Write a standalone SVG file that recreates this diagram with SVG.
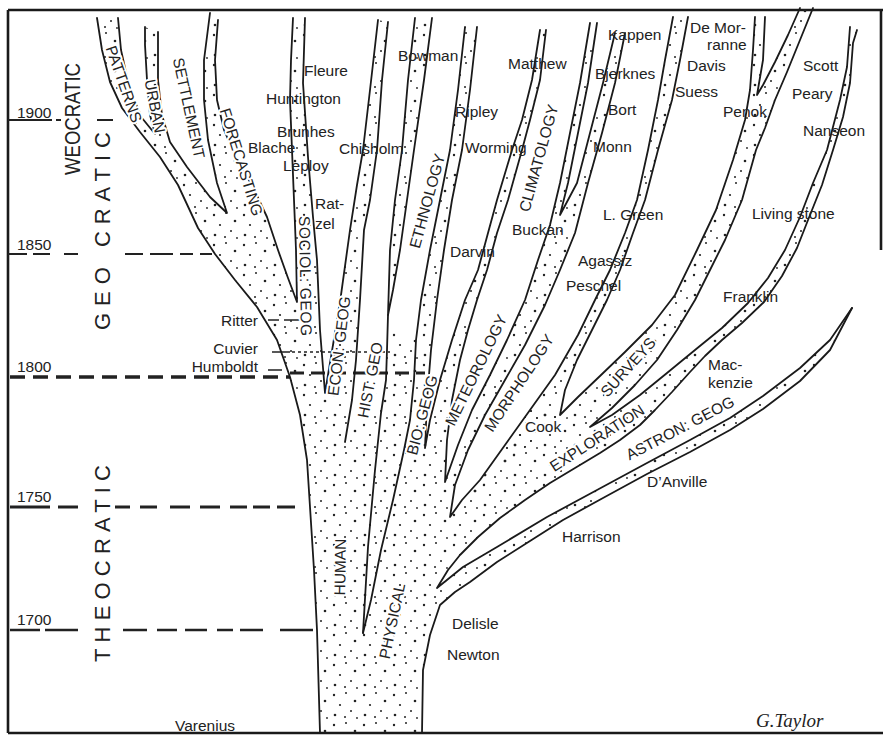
<svg xmlns="http://www.w3.org/2000/svg" width="883" height="735" viewBox="0 0 883 735">
<defs>
<pattern id="stip" width="30" height="30" patternUnits="userSpaceOnUse">
<circle cx="4" cy="5" r="1.2" fill="#222"/><circle cx="16" cy="3" r="1" fill="#222"/><circle cx="25" cy="11" r="1.3" fill="#222"/><circle cx="10" cy="15" r="1.1" fill="#222"/><circle cx="21" cy="21" r="1" fill="#222"/><circle cx="5" cy="25" r="1.3" fill="#222"/><circle cx="15" cy="27" r="1" fill="#222"/><circle cx="27" cy="28" r="0.9" fill="#222"/>
</pattern>
</defs>
<style>
.ln{fill:none;stroke:#1a1a1a;stroke-width:1.8;stroke-linejoin:round;stroke-linecap:round}
.st{fill:url(#stip);stroke:none}
.fr{fill:none;stroke:#1a1a1a;stroke-width:2.6}
.d{fill:none;stroke:#222}
.t{font-family:"Liberation Sans",Arial,sans-serif;font-size:15.5px;fill:#222}
.lb{font-family:"Liberation Sans",Arial,sans-serif;font-size:15.5px;fill:#222;text-anchor:middle;dominant-baseline:central;paint-order:stroke;stroke:#fff;stroke-width:4px;stroke-linejoin:round}
.era{font-family:"Liberation Sans",Arial,sans-serif;font-size:22px;fill:#222;text-anchor:middle;dominant-baseline:central}
</style>
<rect width="883" height="735" fill="#fff"/>
<g id="frame"><path class="fr" d="M8 10 H883 M8 10 V733 M8 733 H883 M881 10 V250"/></g>
<g id="tree-fills">
<path class="st" d="M320 733 L317 630 314 570 310 507 307 460 300 415 290 377 325 393 345 442 386 380 388 330 416 340 414 380 425 448 445 482 450 517 480 480 505 445 530 410 560 415 590 427 600 453 575 468 550 483 525 500 500 518 478 537 460 555 448 570 437 588 440 605 430 635 423 670 422 733 Z"/>
<path class="st" d="M97 18 L102 50 110 82 122 108 140 132 160 157 178 185 198 228 215 254 235 280 257 307 277 340 290 377 325 393 320 330 317 260 313 217 308 157 303 83 305 18 293 18 291 60 290 100 292 150 294 200 296 250 297 302 288 278 278 250 267 217 253 187 237 160 224 130 217 100 215 60 218 20 210 13 204 60 204 100 208 140 217 183 227 213 210 197 187 167 170 142 162 115 158 80 158 32 145 27 145 45 147 80 150 115 155 134 142 118 130 90 121 50 118 18 Z"/>
<path class="st" d="M378 20 L370 90 363 150 357 185 350 230 341 295 333 345 325 393 345 442 352 400 356 360 360 300 364 230 370 200 377 150 382 80 388 22 Z"/>
<path class="st" d="M415 18 L408 80 402 150 395 200 390 250 388 315 393 290 400 250 407 200 414 150 424 80 432 18 Z"/>
<path class="st" d="M465 27 L458 90 450 150 440 200 430 250 421 300 416 340 414 380 425 448 427 400 431 350 437 300 444 250 452 200 462 150 470 90 477 27 Z"/>
<path class="st" d="M540 30 L532 80 522 120 512 150 497 200 488 233 478 270 465 300 452 340 440 380 430 420 425 448 445 482 447 440 452 400 460 360 468 330 477 300 487 270 497 233 508 200 522 150 530 120 540 80 546 30 Z"/>
<path class="st" d="M590 23 L580 83 570 133 560 183 550 225 538 260 525 300 507 340 490 375 472 410 458 445 445 482 450 517 455 485 468 450 485 415 505 380 525 345 545 305 560 270 575 233 588 183 602 133 615 83 625 33 615 33 603 83 590 133 577 183 568 200 560 215 568 183 578 133 588 83 597 23 Z"/>
<path class="st" d="M673 17 L665 60 658 100 648 150 637 200 625 233 610 270 595 300 578 335 555 375 530 410 505 445 480 480 462 500 450 517 560 415 565 390 577 360 592 330 607 300 620 270 633 233 645 200 658 150 672 100 680 60 688 17 Z"/>
<path class="st" d="M755 17 L753 50 750 90 745 120 733 160 716 210 697 250 675 295 652 325 625 352 600 376 578 397 560 415 590 427 612 408 635 385 657 360 677 330 695 300 710 270 725 240 742 200 756 150 765 128 775 100 787 72 800 40 813 8 800 8 788 35 775 62 763 85 757 95 763 60 765 17 Z"/>
<path class="st" d="M850 27 L847 67 840 100 827 150 813 183 800 217 785 250 768 278 748 303 722 328 695 350 667 373 640 395 612 415 590 427 600 453 620 440 640 425 655 410 672 392 690 372 705 356 722 340 742 323 764 302 782 276 797 248 810 215 822 185 833 150 843 117 850 83 853 43 857 30 Z"/>
<path class="st" d="M437 588 L463 567 497 547 547 517 597 490 647 463 690 440 730 418 763 396 800 368 830 340 852 308 830 350 800 381 763 409 730 430 690 452 647 474 603 498 563 520 530 541 497 562 470 582 455 592 440 605 Z"/>
</g>
<g id="dates">
<path class="d" stroke-width="2" d="M8 120 H52 M56 120 H61 M97 120 H113"/>
<path class="d" stroke-width="2.2" d="M8 254 H27 M33 254 H50 M64 254 H78 M125 254 H143 M150 254 H173 M180 254 H193 M200 254 H212"/>
<path class="d" stroke-width="3.5" stroke-dasharray="15 8" d="M10 377 H290"/>
<path class="d" stroke-width="3" stroke-dasharray="14 7" d="M290 373 H425"/>
<path class="d" stroke-width="3" d="M10 507 H50 M58 507 H78 M115 507 H130 M140 507 H157 M170 507 H190 M200 507 H220 M230 507 H247 M253 507 H270 M277 507 H295"/>
<path class="d" stroke-width="2.6" d="M10 630 H40 M45 630 H78 M123 630 H147 M157 630 H177 M185 630 H207 M217 630 H233 M240 630 H263 M280 630 H313"/>
<path class="d" stroke-width="1.5" d="M268 320 H279 M284 320 H300 M272 352 H290 M268 370 H282"/>
<path class="d" stroke-width="1.3" stroke-dasharray="3 3" d="M292 352 H390"/>
<text class="t" x="17" y="118" font-size="15">1900</text>
<text class="t" x="17" y="250" font-size="15">1850</text>
<text class="t" x="17" y="372" font-size="15">1800</text>
<text class="t" x="17" y="502" font-size="15">1750</text>
<text class="t" x="17" y="625" font-size="15">1700</text>
</g>
<g id="eras">
<text class="era" font-size="20" transform="translate(72.5,119) rotate(-90)" textLength="112" lengthAdjust="spacingAndGlyphs">WEOCRATIC</text>
<text class="era" transform="translate(102,231) rotate(-90)" textLength="198" lengthAdjust="spacing">GEO CRATIC</text>
<text class="era" transform="translate(102,563.5) rotate(-90)" textLength="197" lengthAdjust="spacing">THEOCRATIC</text>
</g>
<g id="connectors">
<path class="ln" stroke-width="2.2" d="M97 18 L102 50 110 82 122 108 140 132 160 157 178 185 198 228 215 254 235 280 257 307 277 340 290 377 300 415 307 460 310 507 314 570 317 630 320 733"/>
<path class="ln" d="M118 18 L121 50 130 90 142 118 155 134 150 115 147 80 145 45 145 27"/>
<path class="ln" d="M158 32 L158 80 162 115 170 142 187 167 210 197 227 213 217 183 208 140 204 100 204 60 210 13"/>
<path class="ln" d="M218 20 L215 60 217 100 224 130 237 160 253 187 267 217 278 250 288 278 297 302 296 250 294 200 292 150 290 100 291 60 293 18"/>
<path class="ln" d="M305 18 L303 83 308 157 313 217 317 260 320 330 325 393 333 345 341 295 350 230 357 185 363 150 370 90 378 20"/>
<path class="ln" d="M388 22 L382 80 377 150 370 200 364 230 360 300 356 360 352 400 345 442"/>
<path class="ln" d="M415 18 L408 80 402 150 395 200 390 250 388 315 393 290 400 250 407 200 414 150 424 80 432 18"/>
<path class="ln" d="M388 315 L387 350 386 380 381 413 375 470 368 547 363 633"/>
<path class="ln" d="M465 27 L458 90 450 150 440 200 430 250 421 300 416 340 414 380 410 420 404 450 393 500 381 550 371 600 363 633"/>
<path class="ln" d="M477 27 L470 90 462 150 452 200 444 250 437 300 431 350 427 400 425 448 430 420 440 380 452 340 465 300 478 270 488 233 497 200 512 150 522 120 532 80 540 30"/>
<path class="ln" d="M546 30 L540 80 530 120 522 150 508 200 497 233 487 270 477 300 468 330 460 360 452 400 447 440 445 482 458 445 472 410 490 375 507 340 525 300 538 260 550 225 560 183 570 133 580 83 590 23"/>
<path class="ln" d="M597 23 L588 83 578 133 568 183 560 215 568 200 577 183 590 133 603 83 615 33"/>
<path class="ln" d="M625 33 L615 83 602 133 588 183 575 233 560 270 545 305 525 345 505 380 485 415 468 450 455 485 450 517 462 500 480 480 505 445 530 410 555 375 578 335 595 300 610 270 625 233 637 200 648 150 658 100 665 60 673 17"/>
<path class="ln" d="M688 17 L680 60 672 100 658 150 645 200 633 233 620 270 607 300 592 330 577 360 565 390 560 415 578 397 600 376 625 352 652 325 675 295 697 250 716 210 733 160 745 120 750 90 753 50 755 17"/>
<path class="ln" d="M765 17 L763 60 757 95 763 85 775 62 788 35 800 8"/>
<path class="ln" d="M813 8 L800 40 787 72 775 100 765 128 756 150 742 200 725 240 710 270 695 300 677 330 657 360 635 385 612 408 590 427 612 415 640 395 667 373 695 350 722 328 748 303 768 278 785 250 800 217 813 183 827 150 840 100 847 67 850 27"/>
<path class="ln" d="M857 30 L853 43 850 83 843 117 833 150 822 185 810 215 797 248 782 276 764 302 742 323 722 340 705 356 690 372 672 392 655 410 640 425 620 440 600 453 575 468 550 483 525 500 500 518 478 537 460 555 448 570 437 588 463 567 497 547 547 517 597 490 647 463 690 440 730 418 763 396 800 368 830 340 852 308"/>
<path class="ln" d="M852 308 L830 350 800 381 763 409 730 430 690 452 647 474 603 498 563 520 530 541 497 562 470 582 455 592 440 605 430 635 423 670 422 733"/>
</g>
<g id="labels">
<text class="lb" transform="translate(124,84) rotate(70.7)">PATTERNS</text>
<text class="lb" transform="translate(155,106) rotate(79)">URBAN</text>
<text class="lb" transform="translate(189,108) rotate(77.7)">SETTLEMENT</text>
<text class="lb" transform="translate(241.5,162) rotate(72.7)">FORECASTING</text>
<text class="lb" transform="translate(305.5,276) rotate(89)" textLength="120" lengthAdjust="spacing">SOCIOL: GEOG</text>
<text class="lb" transform="translate(339,346) rotate(-83)">ECON: GEOG</text>
<text class="lb" transform="translate(370,380) rotate(-78.7)">HIST: GEO</text>
<text class="lb" transform="translate(427,201) rotate(-74.6)">ETHNOLOGY</text>
<text class="lb" transform="translate(422,415) rotate(-75)">BIO: GEOG</text>
<text class="lb" transform="translate(476,370) rotate(-64)">METEOROLOGY</text>
<text class="lb" transform="translate(538.5,158) rotate(-74.6)">CLIMATOLOGY</text>
<text class="lb" transform="translate(519,383) rotate(-56.6)">MORPHOLOGY</text>
<text class="lb" transform="translate(628,367) rotate(-48)">SURVEYS</text>
<text class="lb" transform="translate(597,438) rotate(-33)">EXPLORATION</text>
<text class="lb" transform="translate(680,428) rotate(-27.6)">ASTRON: GEOG</text>
<text class="lb" transform="translate(340,567) rotate(-89)">HUMAN</text>
<text class="lb" transform="translate(392,621) rotate(-78)">PHYSICAL</text>
</g>
<g id="names">
<text class="t" x="304" y="76">Fleure</text>
<text class="t" x="266" y="104">Huntington</text>
<text class="t" x="277" y="137">Brunhes</text>
<text class="t" x="248" y="153">Blache</text>
<text class="t" x="283" y="171">Leploy</text>
<text class="t" x="315" y="209">Rat-</text>
<text class="t" x="315" y="229">zel</text>
<text class="t" x="339" y="154">Chisholm</text>
<text class="t" x="398" y="61">Bowman</text>
<text class="t" x="455" y="117">Ripley</text>
<text class="t" x="465" y="153">Worming</text>
<text class="t" x="508" y="69">Matthew</text>
<text class="t" x="608" y="40">Kappen</text>
<text class="t" x="690" y="33" font-size="15">De Mor-</text>
<text class="t" x="707" y="50" font-size="15">ranne</text>
<text class="t" x="595" y="79">Bjerknes</text>
<text class="t" x="687" y="71">Davis</text>
<text class="t" x="675" y="97">Suess</text>
<text class="t" x="608" y="115">Bort</text>
<text class="t" x="723" y="117">Penok</text>
<text class="t" x="803" y="71">Scott</text>
<text class="t" x="792" y="99">Peary</text>
<text class="t" x="803" y="136">Nanseon</text>
<text class="t" x="593" y="152">Monn</text>
<text class="t" x="603" y="220">L. Green</text>
<text class="t" x="752" y="219">Living stone</text>
<text class="t" x="512" y="235">Buckan</text>
<text class="t" x="450" y="257">Darvin</text>
<text class="t" x="578" y="266">Agassiz</text>
<text class="t" x="566" y="291">Peschel</text>
<text class="t" x="723" y="302">Franklin</text>
<text class="t" x="708" y="370">Mac-</text>
<text class="t" x="708" y="388">kenzie</text>
<text class="t" x="525" y="432" style="paint-order:stroke;stroke:#fff;stroke-width:4px">Cook</text>
<text class="t" x="647" y="487">D’Anville</text>
<text class="t" x="562" y="542">Harrison</text>
<text class="t" x="452" y="629">Delisle</text>
<text class="t" x="447" y="660">Newton</text>
<text class="t" x="175" y="731">Varenius</text>
<text class="t" x="258" y="326" text-anchor="end">Ritter</text>
<text class="t" x="258" y="354" text-anchor="end" font-size="15">Cuvier</text>
<text class="t" x="258" y="372" text-anchor="end" font-size="15">Humboldt</text>
<text x="756" y="727" font-family="'Liberation Serif',serif" font-style="italic" font-size="19" fill="#222">G.Taylor</text>
</g>
</svg>
